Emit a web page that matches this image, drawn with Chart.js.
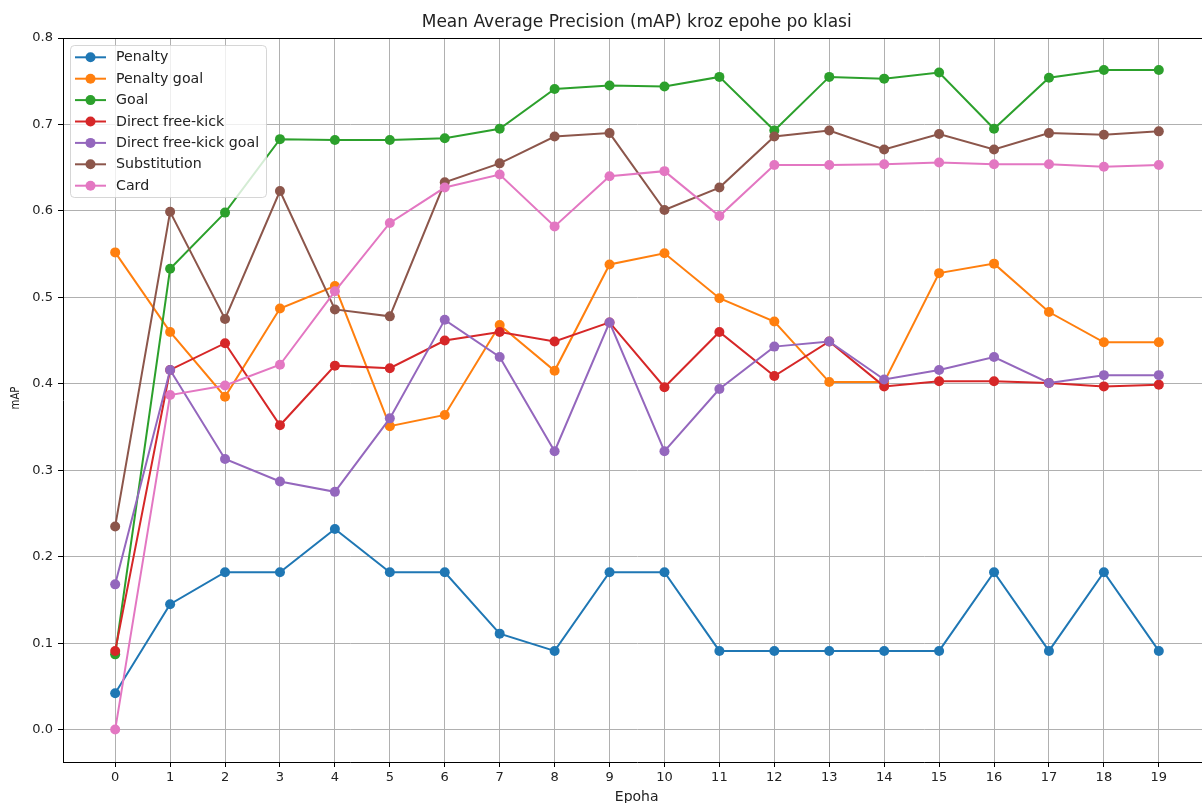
<!DOCTYPE html>
<html>
<head>
<meta charset="utf-8">
<title>mAP po klasi</title>
<script src="https://cdn.jsdelivr.net/npm/chart.js@4.4.1/dist/chart.umd.min.js"></script>
<style>
  html, body { margin: 0; padding: 0; background: #fff; overflow: hidden; }
  #wrap { position: absolute; left: 0; top: 0; width: 1216px; height: 803px; }
  #c { display: block; width: 1216px; height: 803px; }
</style>
</head>
<body>
<div id="wrap"><canvas id="c" width="1216" height="803"></canvas></div>
<script>
// Epochs and tick values
const epochs = [0, 1, 2, 3, 4, 5, 6, 7, 8, 9, 10, 11, 12, 13, 14, 15, 16, 17, 18, 19];
const xTicks = [0, 1, 2, 3, 4, 5, 6, 7, 8, 9, 10, 11, 12, 13, 14, 15, 16, 17, 18, 19];
const yTicks = [0.0, 0.1, 0.2, 0.3, 0.4, 0.5, 0.6, 0.7, 0.8];

// Per-class mAP for each epoch
const classNames = ['Penalty', 'Penalty goal', 'Goal', 'Direct free-kick', 'Direct free-kick goal', 'Substitution', 'Card'];
const penalty = [0.042, 0.145, 0.182, 0.182, 0.232, 0.182, 0.182, 0.111, 0.091, 0.182, 0.182, 0.091, 0.091, 0.091, 0.091, 0.091, 0.182, 0.091, 0.182, 0.091];
const penaltyGoal = [0.552, 0.460, 0.385, 0.487, 0.513, 0.351, 0.364, 0.468, 0.415, 0.538, 0.551, 0.499, 0.472, 0.402, 0.402, 0.528, 0.539, 0.483, 0.448, 0.448];
const goal = [0.087, 0.533, 0.598, 0.683, 0.682, 0.682, 0.684, 0.695, 0.741, 0.745, 0.744, 0.755, 0.693, 0.755, 0.753, 0.760, 0.695, 0.754, 0.763, 0.763];
const directFreeKick = [0.091, 0.416, 0.447, 0.352, 0.421, 0.418, 0.450, 0.460, 0.449, 0.471, 0.396, 0.460, 0.409, 0.449, 0.397, 0.403, 0.403, 0.401, 0.397, 0.399];
const directFreeKickGoal = [0.168, 0.416, 0.313, 0.287, 0.275, 0.360, 0.474, 0.431, 0.322, 0.471, 0.322, 0.394, 0.443, 0.449, 0.405, 0.416, 0.431, 0.401, 0.410, 0.410];
const substitution = [0.235, 0.599, 0.475, 0.623, 0.486, 0.478, 0.633, 0.655, 0.686, 0.690, 0.601, 0.627, 0.686, 0.693, 0.671, 0.689, 0.671, 0.690, 0.688, 0.692];
const card = [0.0, 0.387, 0.398, 0.422, 0.507, 0.586, 0.627, 0.642, 0.582, 0.640, 0.646, 0.594, 0.653, 0.653, 0.654, 0.656, 0.654, 0.654, 0.651, 0.653];

const seriesValues = [penalty, penaltyGoal, goal, directFreeKick, directFreeKickGoal, substitution, card];
const palette = ['#1f77b4', '#ff7f0e', '#2ca02c', '#d62728', '#9467bd', '#8c564b', '#e377c2'];

const FONT = '"DejaVu Sans", "Liberation Sans", sans-serif';

const datasets = seriesValues.map((vals, i) => ({
  label: classNames[i],
  data: epochs.map((e, j) => ({ x: e, y: vals[j] })),
  borderColor: palette[i],
  backgroundColor: palette[i],
  borderWidth: 2,
  pointRadius: 5,
  pointHoverRadius: 5,
  pointBorderWidth: 0,
  tension: 0,
  fill: false,
  order: -i   // later series painted on top
}));

// Title, axis labels, top spine and an in-plot legend box
const decorations = {
  id: 'decorations',
  afterDatasetsDraw(chart) {
    const ctx = chart.ctx;
    const a = chart.chartArea;
    ctx.save();

    // top spine
    ctx.strokeStyle = '#000';
    ctx.lineWidth = 1;
    ctx.beginPath();
    ctx.moveTo(a.left, a.top + 0.5);
    ctx.lineTo(a.right, a.top + 0.5);
    ctx.stroke();

    // legend
    const lx = 70.5, ly = 45.5, lw = 196, lh = 152, r = 4;
    ctx.fillStyle = 'rgba(255,255,255,0.8)';
    ctx.strokeStyle = 'rgba(204,204,204,0.8)';
    ctx.beginPath();
    ctx.moveTo(lx + r, ly);
    ctx.lineTo(lx + lw - r, ly);
    ctx.arcTo(lx + lw, ly, lx + lw, ly + r, r);
    ctx.lineTo(lx + lw, ly + lh - r);
    ctx.arcTo(lx + lw, ly + lh, lx + lw - r, ly + lh, r);
    ctx.lineTo(lx + r, ly + lh);
    ctx.arcTo(lx, ly + lh, lx, ly + lh - r, r);
    ctx.lineTo(lx, ly + r);
    ctx.arcTo(lx, ly, lx + r, ly, r);
    ctx.closePath();
    ctx.fill();
    ctx.stroke();

    ctx.font = '14.2px ' + FONT;
    ctx.textBaseline = 'middle';
    ctx.textAlign = 'left';
    chart.data.datasets.forEach((ds, i) => {
      const y = 57.3 + i * 21.4;
      ctx.strokeStyle = ds.borderColor;
      ctx.lineWidth = 2;
      ctx.beginPath();
      ctx.moveTo(75, y);
      ctx.lineTo(106, y);
      ctx.stroke();
      ctx.fillStyle = ds.backgroundColor;
      ctx.beginPath();
      ctx.arc(90.5, y, 5, 0, Math.PI * 2);
      ctx.fill();
      ctx.fillStyle = '#222';
      ctx.fillText(ds.label, 116, y + 0.5);
    });

    // title
    ctx.fillStyle = '#222';
    ctx.textAlign = 'center';
    ctx.font = '17px ' + FONT;
    ctx.fillText('Mean Average Precision (mAP) kroz epohe po klasi', 636.7, 23);

    // x-axis label
    ctx.font = '14px ' + FONT;
    ctx.fillText('Epoha', 636.7, 797);

    // y-axis label
    ctx.translate(15.5, 398);
    ctx.rotate(-Math.PI / 2);
    ctx.scale(0.78, 1);
    ctx.font = '13px ' + FONT;
    ctx.fillText('mAP', 0, 0);
    ctx.restore();
  }
};

new Chart(document.getElementById('c'), {
  type: 'line',
  data: { datasets },
  options: {
    responsive: false,
    devicePixelRatio: 1,
    animation: false,
    events: [],
    layout: { padding: { top: 38, right: 1, left: 0, bottom: 0 } },
    plugins: {
      legend: { display: false },
      title: { display: false },
      tooltip: { enabled: false }
    },
    scales: {
      x: {
        type: 'linear',
        min: -0.95,
        max: 19.95,
        afterFit(s) { s.height = 41; },
        afterBuildTicks(s) { s.ticks = xTicks.map(v => ({ value: v })); },
        grid: { color: '#b0b0b0', lineWidth: 1, tickLength: 5, tickColor: '#000' },
        border: { display: true, color: '#000', width: 1 },
        ticks: {
          font: { family: FONT, size: 13 },
          color: '#222',
          padding: 3,
          maxRotation: 0,
          autoSkip: false,
          callback: v => String(v)
        }
      },
      y: {
        type: 'linear',
        min: -0.0375,
        max: 0.8,
        afterFit(s) { s.width = 63; },
        afterBuildTicks(s) { s.ticks = yTicks.map(v => ({ value: v })); },
        grid: { color: '#b0b0b0', lineWidth: 1, tickLength: 5, tickColor: '#000' },
        border: { display: true, color: '#000', width: 1 },
        ticks: {
          font: { family: FONT, size: 13 },
          color: '#222',
          padding: 5,
          autoSkip: false,
          callback: v => v.toFixed(1)
        }
      }
    }
  },
  plugins: [decorations]
});
</script>
</body>
</html>
